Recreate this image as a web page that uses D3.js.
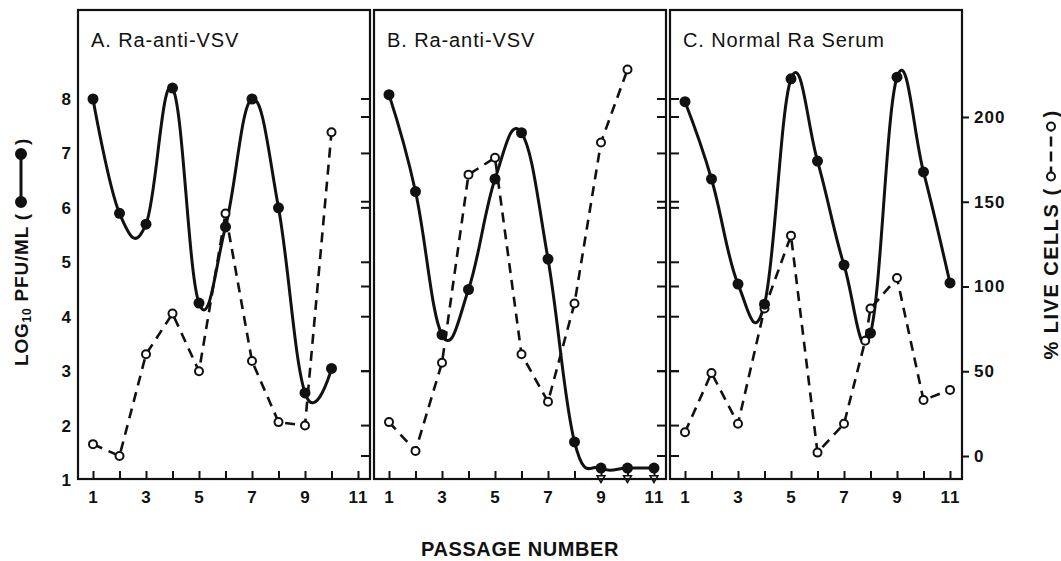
<!DOCTYPE html>
<html>
<head>
<meta charset="utf-8">
<script src="https://cdn.jsdelivr.net/npm/d3@7"></script>
<style>
body { margin: 0; background: #fff; }
svg text { font-family: "Liberation Sans", Arial, sans-serif; fill: #111; }
</style>
</head>
<body>
<script>
// passage numbers and values
var passage = [1, 2, 3, 4, 5, 6, 7, 8, 9, 10, 11]
var titles = ["A. Ra-anti-VSV", "B. Ra-anti-VSV", "C. Normal Ra Serum"]

// log10 PFU/ML (filled circles, solid line)
var pfuA = [8.0, 5.9, 5.7, 8.2, 4.25, 5.65, 8.0, 6.0, 2.6, 3.05]
var pfuB = [8.08, 6.3, 3.67, 4.5, 6.53, 7.38, 5.06, 1.7, 1.22, 1.22, 1.22]
var pfuC = [7.95, 6.53, 4.6, 4.23, 8.37, 6.86, 4.95, 3.7, 8.4, 6.66, 4.62]

// % live cells (open circles, dashed line)
var liveA = [7, 0, 60, 84, 50, 143, 56, 20, 18, 191]
var liveB = [20, 3, 55, 166, 176, 60, 32, 90, 185, 228]
var liveCx = [1, 2, 3, 4, 5, 6, 7, 7.8, 8, 9, 10, 11]
var liveC = [14, 49, 19, 87, 130, 2, 19, 68, 87, 105, 33, 39]
// panel B: below-detection markers
var belowB = [9, 10, 11]

var leftTicks = [1, 2, 3, 4, 5, 6, 7, 8]
var rightTicks = [0, 50, 100, 150, 200]
var xLabels = [1, 3, 5, 7, 9, 11]

var width = 1061
var height = 561
var panelLeft = [78, 374, 670]
var panelW = 292
var plotTop = 10, plotBottom = 479

var svg = d3.select("body").append("svg")
	.attr("width", width).attr("height", height)

var yL = d3.scaleLinear().domain([1, 8]).range([480, 99])
var yR = d3.scaleLinear().domain([0, 200]).range([456, 117])

var panels = [
	{pfu: pfuA, liveX: passage.slice(0, liveA.length), live: liveA},
	{pfu: pfuB, liveX: passage.slice(0, liveB.length), live: liveB, below: belowB},
	{pfu: pfuC, liveX: liveCx, live: liveC}
]

var solid = d3.line().curve(d3.curveCardinal.tension(-0.2))
var dashed = d3.line()

panels.forEach(function(p, i) {
	var x0 = panelLeft[i], x1 = x0 + panelW
	var x = d3.scaleLinear().domain([1, 11]).range([x0 + 15, x0 + 280])
	var g = svg.append("g")

	// bottom axis, inward ticks
	var ax = g.append("g").attr("transform", "translate(0," + plotBottom + ")")
		.call(d3.axisBottom(x).tickValues(passage).tickSize(-8).tickPadding(12)
			.tickFormat(function(d) { return xLabels.indexOf(d) >= 0 ? d : "" }))
	ax.select(".domain").remove()
	ax.selectAll("line").attr("stroke", "#111").attr("stroke-width", 2)
	ax.selectAll("text").style("font-size", "17px").style("font-weight", "bold").style("letter-spacing", "1px")

	// inner border ticks
	var tickYs = leftTicks.filter(function(d) { return d > 1 }).map(yL)
		.concat(rightTicks.map(yR))
	if (i < 2) {
		g.selectAll(".rt").data(tickYs).enter().append("line")
			.attr("x1", x1).attr("x2", x1 - 9).attr("y1", function(d) { return d })
			.attr("y2", function(d) { return d }).attr("stroke", "#111").attr("stroke-width", 2)
	}
	if (i == 2) {
		g.selectAll(".lt").data(tickYs).enter().append("line")
			.attr("x1", x0).attr("x2", x0 + 9).attr("y1", function(d) { return d })
			.attr("y2", function(d) { return d }).attr("stroke", "#111").attr("stroke-width", 2)
	}

	// dashed live cells
	var livePts = p.live.map(function(v, k) { return [x(p.liveX[k]), yR(v)] })
	g.append("path").attr("d", dashed(livePts))
		.attr("fill", "none").attr("stroke", "#111").attr("stroke-width", 2.6)
		.attr("stroke-dasharray", "10,7")

	if (p.below) {
		g.selectAll(".below").data(p.below).enter().append("path")
			.attr("d", d3.symbol().type(d3.symbolTriangle).size(26))
			.attr("transform", function(d) { return "translate(" + x(d) + "," + yR(-13) + ") rotate(180)" })
			.attr("fill", "#fff").attr("stroke", "#111").attr("stroke-width", 1.6)
	}

	// solid pfu
	var pfuPts = p.pfu.map(function(v, k) { return [x(passage[k]), yL(v)] })
	g.append("path").attr("d", solid(pfuPts))
		.attr("fill", "none").attr("stroke", "#111").attr("stroke-width", 3)

	g.selectAll(".open").data(livePts).enter().append("circle")
		.attr("cx", function(d) { return d[0] }).attr("cy", function(d) { return d[1] })
		.attr("r", 4).attr("fill", "#fff").attr("stroke", "#111").attr("stroke-width", 2)

	g.selectAll(".fill").data(pfuPts).enter().append("circle")
		.attr("cx", function(d) { return d[0] }).attr("cy", function(d) { return d[1] })
		.attr("r", 5.5).attr("fill", "#111")

	// panel frame
	g.append("rect").attr("x", x0).attr("y", plotTop).attr("width", panelW).attr("height", plotBottom - plotTop)
		.attr("fill", "none").attr("stroke", "#111").attr("stroke-width", 2.2)

	g.append("text").text(titles[i]).attr("x", x0 + 13).attr("y", plotTop + 37)
		.style("font-size", "20px").style("letter-spacing", "0.9px")
})

// left axis labels
var la = svg.append("g").attr("transform", "translate(" + panelLeft[0] + ",0)")
	.call(d3.axisLeft(yL).tickValues(leftTicks).tickSize(0).tickPadding(7).tickFormat(d3.format("d")))
la.select(".domain").remove()
la.selectAll("text").style("font-size", "17px").style("font-weight", "bold")

// right axis
var rx = panelLeft[2] + panelW
var ra = svg.append("g").attr("transform", "translate(" + rx + ",0)")
	.call(d3.axisRight(yR).tickValues(rightTicks).tickSize(7).tickPadding(5))
ra.select(".domain").remove()
ra.selectAll("line").attr("stroke", "#111").attr("stroke-width", 2)
ra.selectAll("text").style("font-size", "17px").style("font-weight", "bold").style("letter-spacing", "1px")

// x label
svg.append("text").text("PASSAGE NUMBER").attr("x", 520).attr("y", 556)
	.attr("text-anchor", "middle").style("font-size", "20px").style("font-weight", "bold")
	.style("letter-spacing", "0.6px")

// rotated y labels with legend symbol
function yLabel(cx, cy, before, sub, after, filled, size, spacing, symLen) {
	var g = svg.append("g")
	var t = g.append("text").style("font-size", size + "px").style("font-weight", "bold")
		.style("letter-spacing", spacing + "px")
	t.append("tspan").text(before)
	if (sub) {
		t.append("tspan").text(sub).style("font-size", "12px").attr("dy", 3)
		t.append("tspan").text(after).attr("dy", -3)
	}
	var len = t.node().getComputedTextLength() + 2
	g.append("line").attr("x1", len + 9).attr("x2", len + symLen - 9)
		.attr("y1", -7).attr("y2", -7).attr("stroke", "#111").attr("stroke-width", filled ? 3 : 2.5)
		.attr("stroke-dasharray", filled ? null : "10,5")
	;[len + 9, len + symLen - 9].forEach(function(px) {
		g.append("circle").attr("cx", px).attr("cy", -7).attr("r", filled ? 5 : 4)
			.attr("fill", filled ? "#111" : "#fff").attr("stroke", "#111").attr("stroke-width", 2)
	})
	g.append("text").text(")").attr("x", len + symLen).style("font-size", size + "px").style("font-weight", "bold")
	var total = len + symLen + 7
	g.attr("transform", "translate(" + cx + "," + (cy + total / 2) + ") rotate(-90)")
}
yLabel(28, 252, "LOG", "10", " PFU/ML (", true, 19, 0.8, 66)
yLabel(1058, 235, "% LIVE CELLS (", null, null, false, 20, 1.5, 68)
</script>
</body>
</html>
